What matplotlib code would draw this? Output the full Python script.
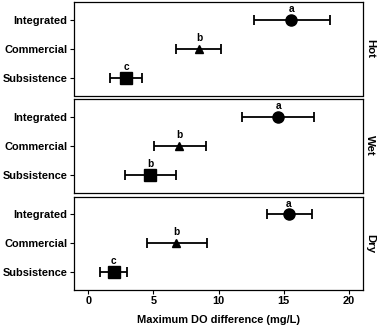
import matplotlib
matplotlib.use("Agg")
import matplotlib.pyplot as plt

plt.rcParams['font.family'] = ['Liberation Sans', 'DejaVu Sans']
plt.rcParams['font.weight'] = 'bold'

seasons = ["Hot", "Wet", "Dry"]
categories = ["Integrated", "Commercial", "Subsistence"]
means = {"Hot": [15.6, 8.5, 2.9], "Wet": [14.6, 7.0, 4.75], "Dry": [15.4, 6.75, 1.95]}
lower = {"Hot": [12.7, 6.75, 1.7], "Wet": [11.8, 5.05, 2.8], "Dry": [13.75, 4.5, 0.9]}
upper = {"Hot": [18.55, 10.2, 4.1], "Wet": [17.3, 9.05, 6.7], "Dry": [17.15, 9.1, 3.0]}
letters = {"Hot": ["a", "b", "c"], "Wet": ["a", "b", "b"], "Dry": ["a", "b", "c"]}
markers = ["o", "^", "s"]
msizes = [8, 6, 8]
xticks = [0, 5, 10, 15, 20]

W, H = 378, 329
fig = plt.figure(figsize=(W / 100, H / 100), dpi=100)
left, right = 74 / W, 363 / W
tops = [2, 99, 196.5]
ph = 93.5
for i, s in enumerate(seasons):
    ax = fig.add_axes([left, 1 - (tops[i] + ph) / H, right - left, ph / H])
    for j, c in enumerate(categories):
        y = j + 1
        m = means[s][j]
        ax.errorbar([m], [y], xerr=[[m - lower[s][j]], [upper[s][j] - m]],
                    fmt=markers[j], color='black', ms=msizes[j], capsize=3.5,
                    elinewidth=1.3, capthick=1.3)
        ax.text(m, y - 0.2, letters[s][j], ha='center', va='bottom', fontsize=7.3,
                fontweight='bold')
    ax.set_ylim(3.62, 0.38)
    ax.set_xlim(-1.1, 21.1)
    ax.set_yticks([1, 2, 3])
    ax.set_yticklabels(categories, fontsize=7.9, fontweight='bold')
    ax.set_xticks(xticks)
    ax.tick_params(length=3, width=0.8, pad=1.5)
    for sp in ax.spines.values():
        sp.set_linewidth(0.9)
    ax.text(1.025, 0.5, s, transform=ax.transAxes, rotation=-90, ha='center',
            va='center', fontsize=8.2, fontweight='bold')
    if i < 2:
        ax.tick_params(axis='x', bottom=False, labelbottom=False)
    else:
        ax.set_xticklabels([str(t) for t in xticks], fontsize=7.9, fontweight='bold')
        ax.set_xlabel("Maximum DO difference (mg/L)", fontsize=7.9, fontweight='bold',
                      labelpad=6)

fig.savefig("out.png", dpi=100)
